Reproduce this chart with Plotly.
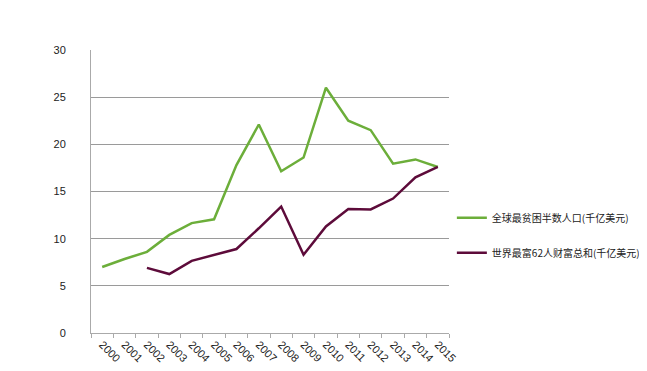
import plotly.graph_objects as go

years = [str(y) for y in range(2000, 2016)]
poorest_half = [7.0, 7.85, 8.6, 10.4, 11.65, 12.05, 17.8, 22.1, 17.15, 18.6, 26.0, 22.5, 21.5, 17.95, 18.4, 17.6]
richest_62 = [None, None, 6.9, 6.25, 7.65, 8.3, 8.9, 11.1, 13.4, 8.3, 11.3, 13.15, 13.1, 14.25, 16.5, 17.6]
name_poor = "全球最贫困半数人口(千亿美元)"
name_rich = "世界最富62人财富总和(千亿美元)"
y_ticks = [0, 5, 10, 15, 20, 25, 30]

fig = go.Figure()
fig.add_trace(go.Scatter(x=years, y=poorest_half, mode="lines", name=name_poor,
                         legendgroup="poor",
                         line=dict(color="#6CAE3A", width=2.5)))
fig.add_trace(go.Scatter(x=years, y=richest_62, mode="lines", name=name_rich,
                         legendgroup="rich",
                         line=dict(color="#5D0B3A", width=2.5)))

fig.update_layout(
    width=639, height=363,
    margin=dict(l=83, r=198, t=42, b=38, autoexpand=False),
    paper_bgcolor="white", plot_bgcolor="white",
    font=dict(family="Liberation Sans, Arial, sans-serif", size=11, color="#222"),
    showlegend=True,
    legend=dict(x=1.008, y=0.345, xanchor="left", yanchor="middle",
                font=dict(family="Noto Sans CJK SC", size=10, color="#222"),
                tracegroupgap=16, bgcolor="rgba(0,0,0,0)"),
    xaxis=dict(type="category", range=[-0.5, 15.5], tickangle=45, showgrid=False,
               showline=True, linecolor="#AAAAAA", linewidth=1,
               ticks="outside", tickson="boundaries", ticklen=4, tickcolor="#AAAAAA",
               tickfont=dict(size=11), automargin=False),
    yaxis=dict(range=[0, 30], tickvals=y_ticks, showgrid=True, gridcolor="#9A9A9A",
               gridwidth=1, showline=True, linecolor="#AAAAAA", linewidth=1,
               zeroline=False, ticks="", ticklabelstandoff=22,
               tickfont=dict(size=11), automargin=False),
)

fig.write_html("out.html")
